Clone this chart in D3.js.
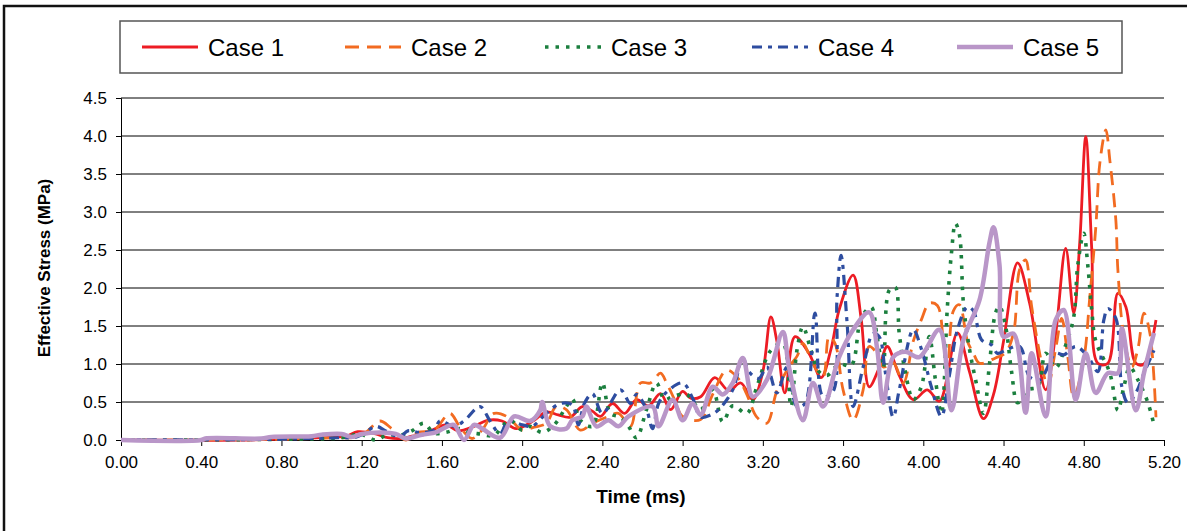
<!DOCTYPE html>
<html>
<head>
<meta charset="utf-8">
<script src="https://cdn.jsdelivr.net/npm/d3@7"></script>
<style>
  body { margin: 0; background: #fff; }
  text { font-family: "Liberation Sans", Arial, sans-serif; }
</style>
</head>
<body>
<script>
//Global variables
    const width = 1187;
    const height = 531;
    const plotLeft = 121, plotRight = 1164, plotTop = 98, plotBottom = 440;

//Data: [time (ms), effective stress (MPa)]
    const seriesNames = ["Case 1", "Case 2", "Case 3", "Case 4", "Case 5"];

    const case1 = [[0,0],[0.6,0],[1.0,0.03],[1.12,0.05],[1.18,0.11],[1.27,0.08],[1.33,0.03],[1.4,0.02],[1.45,0.05],[1.51,0.07],[1.56,0.14],[1.62,0.2],[1.68,0.12],[1.76,0.18],[1.83,0.26],[1.9,0.25],[1.97,0.15],[2.06,0.26],[2.12,0.37],[2.18,0.33],[2.24,0.3],[2.3,0.44],[2.35,0.38],[2.39,0.31],[2.45,0.48],[2.51,0.35],[2.57,0.53],[2.63,0.45],[2.69,0.61],[2.74,0.4],[2.8,0.64],[2.84,0.55],[2.89,0.57],[2.96,0.82],[3.03,0.65],[3.09,0.75],[3.15,0.53],[3.2,0.9],[3.24,1.62],[3.27,1.3],[3.31,0.62],[3.36,1.36],[3.43,1.14],[3.49,0.82],[3.54,1.2],[3.58,1.71],[3.65,2.17],[3.69,1.6],[3.73,0.7],[3.78,0.95],[3.82,1.23],[3.88,0.85],[3.95,0.53],[4.02,0.66],[4.08,0.51],[4.17,1.41],[4.23,0.9],[4.30,0.28],[4.35,0.6],[4.40,1.3],[4.47,2.33],[4.53,1.8],[4.61,0.66],[4.66,1.4],[4.71,2.52],[4.75,1.67],[4.78,2.6],[4.81,3.99],[4.84,2.5],[4.87,1.01],[4.92,1.01],[4.97,1.93],[5.01,1.75],[5.06,1.01],[5.1,1.0],[5.16,1.58]];

    const case2 = [[0,0],[0.8,0.01],[1.1,0.03],[1.15,0.03],[1.22,0.1],[1.29,0.25],[1.35,0.15],[1.42,0],[1.48,0.1],[1.56,0.13],[1.64,0.35],[1.69,0.17],[1.75,0.02],[1.8,0.13],[1.86,0.35],[1.93,0.3],[2.0,0.13],[2.06,0.17],[2.12,0.22],[2.17,0.44],[2.22,0.4],[2.29,0.13],[2.35,0.22],[2.42,0.3],[2.48,0.35],[2.54,0.18],[2.59,0.75],[2.64,0.75],[2.69,0.88],[2.72,0.75],[2.76,0.53],[2.8,0.31],[2.89,0.27],[2.95,0.6],[3.02,0.92],[3.08,0.8],[3.12,0.6],[3.17,0.3],[3.22,0.22],[3.27,0.65],[3.33,0.96],[3.37,1.1],[3.40,1.27],[3.45,1.0],[3.50,0.83],[3.53,1.36],[3.56,1.27],[3.60,0.66],[3.65,0.26],[3.70,0.66],[3.73,1.23],[3.76,1.17],[3.80,0.96],[3.85,1.02],[3.90,0.75],[3.95,1.3],[3.99,1.58],[4.03,1.8],[4.07,1.77],[4.10,1.3],[4.12,0.9],[4.15,1.7],[4.18,1.78],[4.22,1.3],[4.25,1.14],[4.28,1.01],[4.36,1.08],[4.41,1.15],[4.45,1.41],[4.48,2.24],[4.51,2.37],[4.54,1.76],[4.59,1.01],[4.62,0.7],[4.66,1.2],[4.69,1.6],[4.72,1.1],[4.75,0.57],[4.80,1.06],[4.83,1.88],[4.86,2.8],[4.88,3.64],[4.91,4.08],[4.93,3.68],[4.96,2.89],[4.97,2.24],[5.00,1.36],[5.04,0.96],[5.07,1.2],[5.10,1.67],[5.13,1.4],[5.16,0.3]];

    const case3 = [[0,0],[0.8,0.01],[1.1,0.03],[1.19,0.08],[1.23,0.04],[1.27,0],[1.33,0.07],[1.39,0.06],[1.45,0.12],[1.51,0.22],[1.56,0.09],[1.62,0.1],[1.69,0.15],[1.74,0.1],[1.79,0.08],[1.86,0.06],[1.9,0.18],[1.94,0.26],[2.0,0.13],[2.04,0.18],[2.1,0.1],[2.16,0.2],[2.22,0.44],[2.25,0.54],[2.29,0.26],[2.35,0.18],[2.40,0.75],[2.44,0.35],[2.49,0.3],[2.53,0.18],[2.57,0.03],[2.62,0.4],[2.67,0.75],[2.71,0.53],[2.75,0.57],[2.82,0.6],[2.89,0.4],[2.95,0.66],[3.00,0.24],[3.05,0.45],[3.12,0.35],[3.17,0.7],[3.24,1.18],[3.30,1.27],[3.34,0.44],[3.37,1.18],[3.40,1.49],[3.44,1.18],[3.48,0.9],[3.52,0.85],[3.58,1.0],[3.64,0.98],[3.69,1.6],[3.74,1.75],[3.77,1.35],[3.80,0.95],[3.83,1.97],[3.86,2.01],[3.88,1.4],[3.91,0.9],[3.95,0.53],[3.99,0.7],[4.03,1.36],[4.06,0.8],[4.09,0.35],[4.12,1.75],[4.14,2.45],[4.16,2.85],[4.18,2.7],[4.20,1.8],[4.23,1.2],[4.26,0.8],[4.30,0.35],[4.33,1.0],[4.36,1.67],[4.38,1.76],[4.41,1.5],[4.44,0.9],[4.47,0.49],[4.52,0.66],[4.57,0.7],[4.61,1.14],[4.66,0.95],[4.71,1.25],[4.75,1.62],[4.77,2.3],[4.80,2.72],[4.82,2.3],[4.84,1.7],[4.86,1.3],[4.93,0.88],[4.97,0.39],[5.00,0.7],[5.03,0.96],[5.07,0.79],[5.12,0.49],[5.15,0.2]];

    const case4 = [[0,0],[0.8,0.01],[1.1,0.03],[1.16,0.03],[1.21,0.08],[1.27,0.18],[1.32,0.12],[1.39,0.04],[1.43,0.12],[1.49,0.1],[1.56,0.13],[1.59,0.25],[1.66,0.18],[1.71,0.25],[1.79,0.44],[1.84,0.25],[1.89,0.08],[1.93,0.25],[2.0,0.2],[2.05,0.18],[2.12,0.35],[2.19,0.48],[2.25,0.46],[2.28,0.2],[2.31,0.48],[2.35,0.61],[2.40,0.35],[2.49,0.66],[2.54,0.48],[2.57,0.6],[2.62,0.4],[2.65,0.15],[2.68,0.48],[2.72,0.63],[2.80,0.75],[2.85,0.55],[2.89,0.3],[2.94,0.33],[2.98,0.40],[3.05,0.66],[3.10,1.08],[3.13,0.9],[3.18,0.81],[3.22,0.96],[3.27,0.62],[3.32,0.96],[3.37,0.44],[3.41,0.48],[3.46,1.67],[3.50,0.57],[3.55,0.64],[3.57,1.88],[3.59,2.43],[3.62,1.54],[3.65,0.44],[3.70,0.96],[3.75,1.4],[3.78,1.36],[3.81,0.9],[3.85,0.30],[3.88,0.66],[3.95,1.45],[3.99,1.2],[4.04,0.70],[4.09,0.31],[4.13,0.85],[4.17,1.45],[4.22,1.75],[4.25,1.7],[4.29,1.32],[4.34,1.25],[4.37,1.14],[4.41,1.18],[4.48,1.23],[4.53,0.83],[4.58,0.79],[4.66,1.14],[4.70,1.12],[4.76,1.23],[4.82,1.1],[4.87,0.9],[4.90,1.58],[4.92,1.73],[4.96,1.6],[4.99,0.70],[5.02,0.49],[5.06,0.62],[5.10,0.88],[5.15,1.18]];

    const case5 = [[0,0],[0.4,0],[0.42,0.02],[0.7,0.02],[0.75,0.04],[0.95,0.05],[1.0,0.07],[1.1,0.08],[1.15,0.04],[1.2,0.08],[1.3,0.1],[1.37,0.08],[1.42,0.02],[1.5,0.07],[1.57,0.1],[1.62,0.17],[1.66,0.2],[1.71,0.0],[1.76,0.2],[1.8,0.15],[1.89,0.03],[1.96,0.31],[2.04,0.25],[2.09,0.39],[2.10,0.5],[2.14,0.18],[2.22,0.15],[2.25,0.26],[2.30,0.31],[2.32,0.44],[2.37,0.18],[2.43,0.26],[2.48,0.18],[2.53,0.31],[2.65,0.44],[2.68,0.18],[2.75,0.53],[2.80,0.26],[2.85,0.48],[2.89,0.33],[2.95,0.70],[3.00,0.6],[3.05,0.75],[3.10,1.08],[3.15,0.57],[3.22,0.79],[3.30,1.42],[3.33,0.96],[3.40,0.26],[3.45,0.75],[3.50,0.44],[3.58,1.09],[3.65,1.45],[3.73,1.68],[3.77,1.2],[3.80,0.49],[3.85,1.09],[3.91,1.16],[3.98,1.09],[4.08,1.45],[4.14,0.39],[4.20,1.32],[4.28,1.84],[4.33,2.6],[4.35,2.80],[4.38,2.3],[4.40,1.36],[4.45,1.40],[4.51,0.36],[4.54,1.14],[4.61,0.31],[4.66,1.58],[4.70,1.71],[4.76,0.53],[4.81,1.14],[4.86,0.62],[4.92,0.88],[4.97,0.88],[4.99,1.47],[5.06,0.39],[5.10,0.88],[5.15,1.41]];

    const xTicks = [0, 0.4, 0.8, 1.2, 1.6, 2.0, 2.4, 2.8, 3.2, 3.6, 4.0, 4.4, 4.8, 5.2];
    const yTicks = [0, 0.5, 1.0, 1.5, 2.0, 2.5, 3.0, 3.5, 4.0, 4.5];

//Styles per series
    const colors = ["#ED1C24", "#F26B21", "#1B7F3E", "#2E4DA0", "#B996C8"];
    const widths = [2.8, 2.8, 3.6, 3.2, 4.5];
    const dashes = [null, "14,8", "3.5,7", "10,6,4,6", null];
    const allSeries = [case1, case2, case3, case4, case5];

//Scales
    const xScale = d3.scaleLinear().domain([0, 5.2]).range([plotLeft, plotRight]);
    const yScale = d3.scaleLinear().domain([0, 4.5]).range([plotBottom, plotTop]);

//SVG element
    const svg = d3.select("body").append("svg")
        .attr("width", width)
        .attr("height", height);

    //Outer frame
    svg.append("rect")
        .attr("x", 4).attr("y", 6)
        .attr("width", width + 10).attr("height", height)
        .attr("fill", "none").attr("stroke", "#111").attr("stroke-width", 2.5);

//Gridlines
    svg.append("g")
        .selectAll("line")
        .data(yTicks.filter(d => d > 0))
        .enter()
        .append("line")
        .attr("x1", plotLeft).attr("x2", plotRight)
        .attr("y1", d => yScale(d)).attr("y2", d => yScale(d))
        .attr("stroke", "#000").attr("stroke-width", 1);

//Axes
    const leftAxis = d3.axisLeft(yScale)
        .tickValues(yTicks)
        .tickFormat(d3.format(".1f"))
        .tickSize(5).tickPadding(9);

    const bottomAxis = d3.axisBottom(xScale)
        .tickValues(xTicks)
        .tickFormat(d3.format(".2f"))
        .tickSize(6).tickPadding(10);

    const gy = svg.append("g")
        .attr("transform", "translate(" + plotLeft + ",0)")
        .call(leftAxis);

    const gx = svg.append("g")
        .attr("transform", "translate(0," + plotBottom + ")")
        .call(bottomAxis);

    [gx, gy].forEach(g => {
        g.select(".domain").attr("stroke", "#000").attr("stroke-width", 1);
        g.selectAll(".tick line").attr("stroke", "#000");
        g.selectAll(".tick text")
            .attr("fill", "#000")
            .style("font-family", "'Liberation Sans', Arial, sans-serif")
            .style("font-size", "17px");
    });

//Lines
    const line = d3.line()
        .x(d => xScale(d[0]))
        .y(d => yScale(d[1]))
        .curve(d3.curveCatmullRom.alpha(0.5));

    svg.append("g")
        .selectAll("path")
        .data(allSeries)
        .enter()
        .append("path")
        .attr("d", d => line(d))
        .attr("fill", "none")
        .attr("stroke", (d, i) => colors[i])
        .attr("stroke-width", (d, i) => widths[i])
        .attr("stroke-dasharray", (d, i) => dashes[i])
        .attr("stroke-linejoin", "round");

//Axis titles
    svg.append("text")
        .attr("x", 641)
        .attr("y", 503)
        .attr("text-anchor", "middle")
        .style("font-weight", "bold")
        .style("font-size", "19px")
        .text("Time (ms)");

    svg.append("text")
        .attr("transform", "translate(50,268) rotate(-90)")
        .attr("text-anchor", "middle")
        .style("font-weight", "bold")
        .style("font-size", "17px")
        .text("Effective Stress (MPa)");

//Legend
    const legendX = [142, 345, 545, 752, 957];

    svg.append("rect")
        .attr("x", 120).attr("y", 21)
        .attr("width", 1002).attr("height", 52)
        .attr("fill", "#fff").attr("stroke", "#555").attr("stroke-width", 1.5);

    const legend = svg.append("g")
        .selectAll("g")
        .data(seriesNames)
        .enter()
        .append("g")
        .attr("transform", (d, i) => "translate(" + legendX[i] + ",47)");

    legend.append("line")
        .attr("x1", 0).attr("x2", 56)
        .attr("stroke", (d, i) => colors[i])
        .attr("stroke-width", (d, i) => widths[i])
        .attr("stroke-dasharray", (d, i) => dashes[i]);

    legend.append("text")
        .attr("x", 66)
        .attr("y", 9)
        .style("font-size", "24px")
        .text(d => d);
</script>
</body>
</html>
